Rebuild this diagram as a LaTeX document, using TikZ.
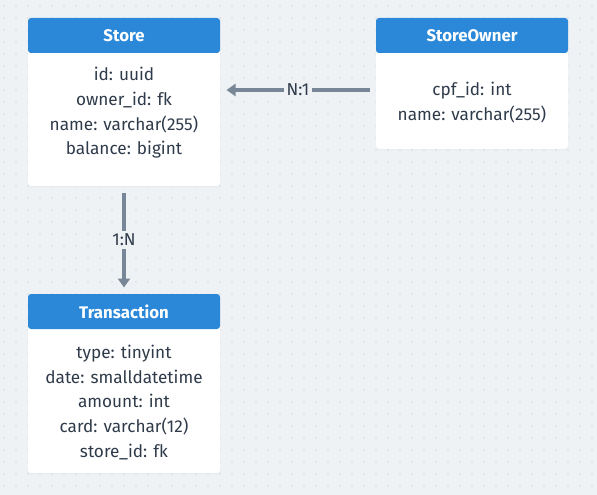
\documentclass[tikz,border=0pt]{standalone}
\usepackage{fontspec}
\setmainfont{Fira Sans}
\usetikzlibrary{arrows.meta, positioning, shadows}

\definecolor{canvas}{HTML}{EFF2F5}
\definecolor{griddot}{HTML}{B8BFC7}
\definecolor{headblue}{HTML}{2B88D8}
\definecolor{inktext}{HTML}{2F3B4A}
\definecolor{linkgray}{HTML}{778797}

\begin{document}
\begin{tikzpicture}[x=1pt, y=-1pt]
    % --- Style Definitions ---
    \tikzset{
        table card/.style={
            fill=white,
            rounded corners=3pt,
            minimum width=192pt,
            outer sep=6.5pt,
            drop shadow={opacity=0.08, shadow xshift=0pt, shadow yshift=-1pt}
        },
        table head/.style={
            fill=headblue,
            rounded corners=3pt,
            minimum width=192pt,
            minimum height=35pt,
            inner sep=0pt,
            text=white,
            font=\fontsize{16.8}{19}\selectfont\bfseries
        },
        field list/.style={
            align=center,
            inner sep=0pt,
            text=inktext,
            font=\fontsize{17.2}{24.6}\selectfont
        },
        relation arrow/.style={
            -{Triangle[length=9pt, width=12pt]},
            line width=3.5pt,
            linkgray
        },
        relation label/.style={
            fill=canvas,
            inner sep=3pt,
            text=inktext,
            font=\fontsize{17.2}{19}\selectfont
        }
    }

    % --- 1. Canvas with dotted grid ---
    \fill[canvas] (0,0) rectangle (597,495);
    \useasboundingbox (0,0) rectangle (597,495);
    \foreach \gx in {4,16,...,592}
        \foreach \gy in {6,18,...,490}
            \fill[griddot] (\gx,\gy) circle (0.7pt);

    % --- 2. Tables ---
    \node[table card, minimum height=168pt] (store) at (124,102) {};
    \node[table head] (storehead) at (124,35.5) {Store};
    \node[field list] (storefields) at (124,113)
        {id: uuid\\owner\_id: fk\\name: varchar(255)\\balance: bigint};

    \node[table card, minimum height=131pt] (owner) at (472,83.5) {};
    \node[table head] (ownerhead) at (472,35.5) {StoreOwner};
    \node[field list] (ownerfields) at (472,102.5)
        {cpf\_id: int\\name: varchar(255)};

    \node[table card, minimum height=179pt] (trans) at (124,383.5) {};
    \node[table head] (transhead) at (124,311.5) {Transaction};
    \node[field list] (transfields) at (124,402.5)
        {type: tinyint\\date: smalldatetime\\amount: int\\card: varchar(12)\\store\_id: fk};

    % --- 3. Relations ---
    \coordinate (linkrow) at (0,90);
    \draw[relation arrow] (owner.west |- linkrow)
        -- node[relation label] {N:1} (store.east |- linkrow);
    \draw[relation arrow] (store.south)
        -- node[relation label] {1:N} (trans.north);

\end{tikzpicture}
\end{document}
